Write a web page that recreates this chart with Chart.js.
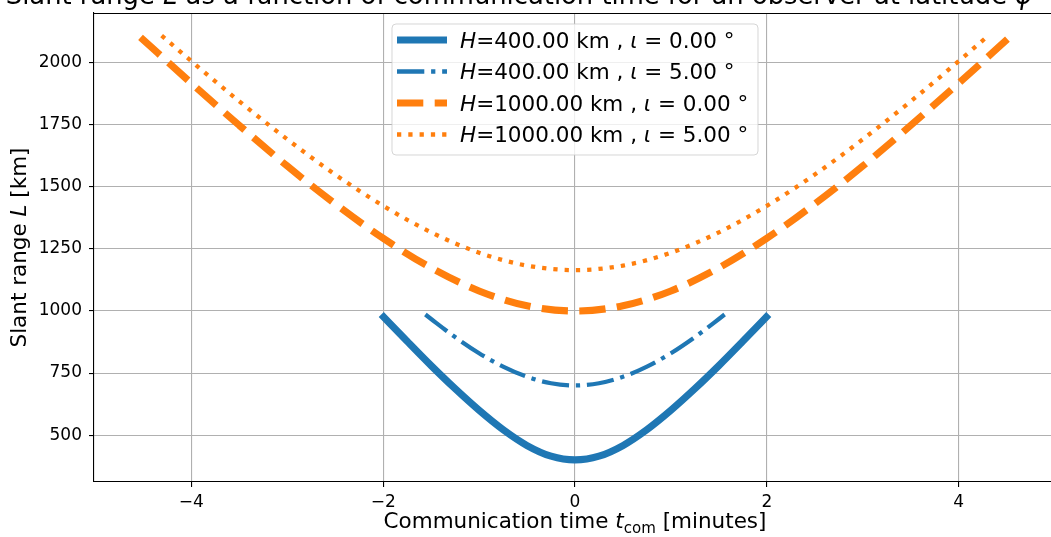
<!DOCTYPE html>
<html>
<head>
<meta charset="utf-8">
<script src="https://cdn.jsdelivr.net/npm/chart.js@4.4.0/dist/chart.umd.min.js"></script>
<style>
  html, body { margin: 0; padding: 0; overflow: hidden; background: #fff; }
  #wrap { position: absolute; left: 0; top: 0; width: 1070px; height: 537px; }
</style>
</head>
<body>
<div id="wrap"><canvas id="chart" width="1070" height="537"></canvas></div>
<script>
// communication time [minutes] and slant range [km]
var t400i0 = [-2.02, -1.75, -1.5, -1.25, -1.0, -0.75, -0.5, -0.25, 0, 0.25, 0.5, 0.75, 1.0, 1.25, 1.5, 1.75, 2.02];
var L400i0 = [986, 878, 780, 687, 600, 522, 458, 415, 400, 415, 458, 522, 600, 687, 780, 878, 986];

var t400i5 = [-1.56, -1.5, -1.25, -1.0, -0.75, -0.5, -0.25, 0, 0.25, 0.5, 0.75, 1.0, 1.25, 1.5, 1.56];
var L400i5 = [986, 968, 895, 830, 776, 735, 709, 700, 709, 735, 776, 830, 895, 968, 986];

var t1000i0 = [-4.53, -4.0, -3.5, -3.0, -2.5, -2.0, -1.5, -1.0, -0.5, 0, 0.5, 1.0, 1.5, 2.0, 2.5, 3.0, 3.5, 4.0, 4.53];
var L1000i0 = [2103, 1918, 1748, 1584, 1432, 1293, 1174, 1081, 1021, 1000, 1021, 1081, 1174, 1293, 1432, 1584, 1748, 1918, 2103];

var t1000i5 = [-4.31, -4.0, -3.5, -3.0, -2.5, -2.0, -1.5, -1.0, -0.5, 0, 0.5, 1.0, 1.5, 2.0, 2.5, 3.0, 3.5, 4.0, 4.31];
var L1000i5 = [2110, 2007, 1845, 1692, 1550, 1424, 1317, 1235, 1183, 1165, 1183, 1235, 1317, 1424, 1550, 1692, 1845, 2007, 2110];

var xTicks = [-4, -2, 0, 2, 4];
var yTicks = [500, 750, 1000, 1250, 1500, 1750, 2000];

var FONT = '"DejaVu Sans", sans-serif';
var BLUE = '#1f77b4';
var ORANGE = '#ff7f0e';

function pts(t, L) {
    return t.map(function (v, i) { return { x: v, y: L[i] }; });
}

var series = [
    { H: '400.00', i: '0.00', color: BLUE, width: 7.1, dash: [], data: pts(t400i0, L400i0) },
    { H: '400.00', i: '5.00', color: BLUE, width: 4.26, dash: [27.3, 6.8, 4.26, 6.8], data: pts(t400i5, L400i5) },
    { H: '1000.00', i: '0.00', color: ORANGE, width: 7.1, dash: [26.3, 11.4], data: pts(t1000i0, L1000i0) },
    { H: '1000.00', i: '5.00', color: ORANGE, width: 4.26, dash: [4.26, 7.03], data: pts(t1000i5, L1000i5) }
];

function fmtTick(v) {
    return v < 0 ? '\u2212' + Math.abs(v) : String(v);
}

// draws text made of parts: [text, 'n' | 'i' | 'sub']
function richText(ctx, parts, x, y, size, align) {
    function font(p) {
        if (p[1] === 'i') return 'italic ' + size + 'px ' + FONT;
        if (p[1] === 'sub') return (size * 0.7) + 'px ' + FONT;
        return size + 'px ' + FONT;
    }
    var total = 0;
    parts.forEach(function (p) { ctx.font = font(p); total += ctx.measureText(p[0]).width; });
    var cx = align === 'center' ? x - total / 2 : x;
    ctx.textAlign = 'left';
    ctx.textBaseline = 'alphabetic';
    parts.forEach(function (p) {
        ctx.font = font(p);
        ctx.fillText(p[0], cx, p[1] === 'sub' ? y + size * 0.22 : y);
        cx += ctx.measureText(p[0]).width;
    });
}

var decor = {
    id: 'decor',
    afterDraw: function (chart) {
        var ctx = chart.ctx;
        var a = chart.chartArea;
        ctx.save();
        // top spine
        ctx.strokeStyle = '#000';
        ctx.lineWidth = 1;
        ctx.beginPath();
        ctx.moveTo(a.left, Math.round(a.top) + 0.5);
        ctx.lineTo(a.right, Math.round(a.top) + 0.5);
        ctx.stroke();

        ctx.fillStyle = '#000';
        // title
        richText(ctx, [['Slant range ', 'n'], ['L', 'i'],
            [' as a function of communication time for an observer at latitude ', 'n'], ['\u03D5', 'i']],
            519, 4, 25.8, 'center');
        // x label
        richText(ctx, [['Communication time ', 'n'], ['t', 'i'], ['com', 'sub'], [' [minutes]', 'n']],
            (a.left + a.right) / 2, 528, 21.5, 'center');
        // y label
        ctx.save();
        ctx.translate(26, (a.top + a.bottom) / 2);
        ctx.rotate(-Math.PI / 2);
        richText(ctx, [['Slant range ', 'n'], ['L', 'i'], [' [km]', 'n']], 0, 0, 21.5, 'center');
        ctx.restore();

        // legend
        var bx = 392, by = 24, bw = 366, bh = 131, r = 4;
        ctx.beginPath();
        ctx.moveTo(bx + r, by);
        ctx.lineTo(bx + bw - r, by);
        ctx.arcTo(bx + bw, by, bx + bw, by + r, r);
        ctx.lineTo(bx + bw, by + bh - r);
        ctx.arcTo(bx + bw, by + bh, bx + bw - r, by + bh, r);
        ctx.lineTo(bx + r, by + bh);
        ctx.arcTo(bx, by + bh, bx, by + bh - r, r);
        ctx.lineTo(bx, by + r);
        ctx.arcTo(bx, by, bx + r, by, r);
        ctx.closePath();
        ctx.fillStyle = 'rgba(255,255,255,0.8)';
        ctx.fill();
        ctx.strokeStyle = 'rgba(204,204,204,0.8)';
        ctx.lineWidth = 1;
        ctx.stroke();

        series.forEach(function (s, k) {
            var yy = 40 + k * 31.5;
            ctx.strokeStyle = s.color;
            ctx.lineWidth = s.width;
            ctx.lineCap = 'butt';
            ctx.setLineDash(s.dash);
            ctx.beginPath();
            ctx.moveTo(397, yy);
            ctx.lineTo(447, yy);
            ctx.stroke();
            ctx.setLineDash([]);
            ctx.fillStyle = '#000';
            richText(ctx, [['H', 'i'], ['=' + s.H + ' km , ', 'n'], ['\u03B9', 'i'], [' = ' + s.i + ' \u00B0', 'n']],
                460, yy + 7.5, 21.5, 'left');
        });
        ctx.restore();
    }
};

var gridStyle = { color: '#b0b0b0', lineWidth: 1.1, tickColor: '#000', tickLength: 5, tickWidth: 1.1 };
var tickFont = { family: FONT, size: 17 };

new Chart(document.getElementById('chart'), {
    type: 'line',
    data: {
        datasets: series.map(function (s, k) {
            return {
                label: 'H=' + s.H + ' km , \u03B9 = ' + s.i + ' \u00B0',
                data: s.data,
                borderColor: s.color,
                backgroundColor: s.color,
                borderWidth: s.width,
                borderDash: s.dash,
                borderCapStyle: 'butt',
                pointRadius: 0,
                fill: false,
                cubicInterpolationMode: 'monotone',
                order: 3 - k
            };
        })
    },
    options: {
        responsive: false,
        animation: false,
        layout: { padding: { top: 13, right: 14, left: 0, bottom: 0 } },
        plugins: {
            legend: { display: false },
            tooltip: { enabled: false }
        },
        scales: {
            x: {
                type: 'linear',
                min: -5.015,
                max: 5.015,
                afterFit: function (s) { s.height = 55; s.paddingLeft = 0; s.paddingRight = 0; },
                afterBuildTicks: function (s) { s.ticks = xTicks.map(function (v) { return { value: v }; }); },
                grid: gridStyle,
                border: { color: '#000', width: 1.1 },
                ticks: { color: '#000', font: tickFont, padding: 5, maxRotation: 0, autoSkip: false, callback: fmtTick }
            },
            y: {
                type: 'linear',
                min: 311,
                max: 2201,
                afterFit: function (s) { s.width = 94; s.paddingTop = 0; s.paddingBottom = 0; },
                afterBuildTicks: function (s) { s.ticks = yTicks.map(function (v) { return { value: v }; }); },
                grid: gridStyle,
                border: { color: '#000', width: 1.1 },
                ticks: { color: '#000', font: tickFont, padding: 7, autoSkip: false, callback: fmtTick }
            }
        }
    },
    plugins: [decor]
});
</script>
</body>
</html>
